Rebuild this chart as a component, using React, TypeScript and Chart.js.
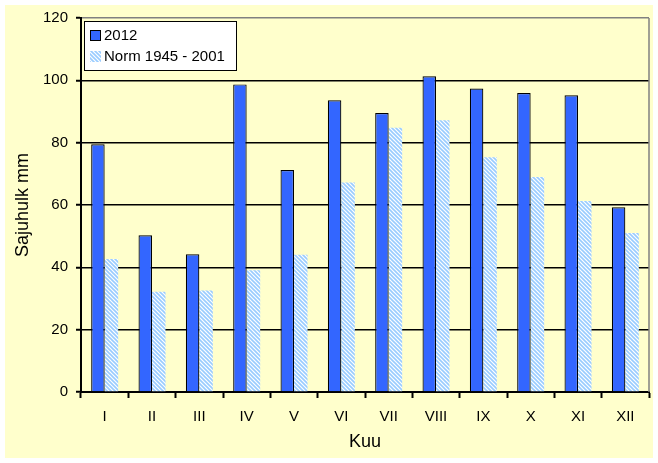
import React, { useEffect, useRef } from "react";
import { Chart, registerables } from "chart.js";

Chart.register(...registerables);

const months = ["I", "II", "III", "IV", "V", "VI", "VII", "VIII", "IX", "X", "XI", "XII"];
const values2012 = [79.5, 50.3, 44.2, 98.7, 71.2, 93.6, 89.5, 101.3, 97.4, 95.9, 95.2, 59.3];
const valuesNorm = [42.7, 32.2, 32.6, 39.1, 44.0, 67.2, 84.8, 87.2, 75.3, 69.0, 61.3, 51.0];
const seriesLabels = ["2012", "Norm 1945 - 2001"];

const FONT = "'Liberation Sans', Arial, sans-serif";

function makeHatch(): CanvasPattern | string {
  const c = document.createElement("canvas");
  c.width = 4;
  c.height = 4;
  const g = c.getContext("2d");
  if (!g) return "#99ccff";
  g.fillStyle = "#ffffff";
  g.fillRect(0, 0, 4, 4);
  g.strokeStyle = "#99ccff";
  g.lineWidth = 1.6;
  g.beginPath();
  g.moveTo(-1, -1);
  g.lineTo(5, 5);
  g.moveTo(-1, 3);
  g.lineTo(1, 5);
  g.moveTo(3, -1);
  g.lineTo(5, 1);
  g.stroke();
  const p = g.createPattern(c, "repeat");
  return p || "#99ccff";
}

export default function App() {
  const ref = useRef<HTMLCanvasElement | null>(null);

  useEffect(() => {
    document.body.style.margin = "0";
    const canvas = ref.current;
    if (!canvas) return;
    const hatch = makeHatch();

    const bgPlugin = {
      id: "bg",
      beforeDraw(chart: any) {
        const ctx = chart.ctx;
        ctx.save();
        ctx.fillStyle = "#ffffff";
        ctx.fillRect(0, 0, chart.width, chart.height);
        ctx.fillStyle = "#ffffcc";
        ctx.fillRect(5, 5, 648, 453);
        ctx.restore();
      },
      afterDraw(chart: any) {
        const ctx = chart.ctx;
        const a = chart.chartArea;
        ctx.save();
        ctx.strokeStyle = "#808080";
        ctx.lineWidth = 1.5;
        ctx.beginPath();
        ctx.moveTo(a.right, a.top);
        ctx.lineTo(a.right, a.bottom);
        ctx.stroke();
        // legend
        const lx = 84, ly = 21, lw = 152, lh = 49;
        ctx.fillStyle = "#ffffff";
        ctx.fillRect(lx, ly, lw, lh);
        ctx.strokeStyle = "#000000";
        ctx.lineWidth = 1;
        ctx.strokeRect(lx + 0.5, ly + 0.5, lw, lh);
        ctx.font = "15px " + FONT;
        ctx.textBaseline = "middle";
        ctx.textAlign = "left";
        ctx.fillStyle = "#3366ff";
        ctx.fillRect(91, 31, 9, 9);
        ctx.strokeStyle = "#000";
        ctx.strokeRect(90.5, 30.5, 10, 10);
        ctx.fillStyle = "#000";
        ctx.fillText(seriesLabels[0], 104, 35.5);
        ctx.fillStyle = hatch as any;
        ctx.fillRect(90, 51, 11, 11);
        ctx.fillStyle = "#000";
        ctx.fillText(seriesLabels[1], 104, 57);
        ctx.restore();
      },
    };

    const chart = new Chart(canvas, {
      type: "bar",
      data: {
        labels: months,
        datasets: [
          {
            label: seriesLabels[0],
            data: values2012,
            backgroundColor: "#3366ff",
            borderColor: "#000000",
            borderWidth: { top: 1.2, left: 1.2, right: 1.2, bottom: 0 },
            borderSkipped: "bottom",
            categoryPercentage: 0.57,
            barPercentage: 1.0,
          },
          {
            label: seriesLabels[1],
            data: valuesNorm,
            backgroundColor: hatch as any,
            borderWidth: 0,
            categoryPercentage: 0.57,
            barPercentage: 1.0,
          },
        ],
      },
      options: {
        responsive: false,
        animation: false,
        events: [],
        layout: { padding: { left: 12, right: 9, top: 18, bottom: 10 } },
        plugins: {
          legend: { display: false },
          tooltip: { enabled: false },
          title: { display: false },
        },
        scales: {
          x: {
            grid: {
              offset: true,
              drawOnChartArea: false,
              drawTicks: true,
              tickLength: 6,
              tickColor: "#000",
              tickWidth: 2,
            },
            border: { display: true, color: "#000", width: 2 },
            ticks: {
              color: "#000",
              font: { family: FONT, size: 15 },
              padding: 10,
              maxRotation: 0,
            },
            title: {
              display: true,
              text: "Kuu",
              color: "#000",
              font: { family: FONT, size: 18 },
              padding: { top: 4, bottom: 0 },
            },
            afterFit(scale: any) {
              scale.height = 463 - 392 - 10;
            },
          },
          y: {
            min: 0,
            max: 120,
            ticks: {
              stepSize: 20,
              color: "#000",
              font: { family: FONT, size: 15 },
              padding: 8,
            },
            grid: {
              color: (c: any) => (c.tick && c.tick.value === 120 ? "#808080" : "#000000"),
              lineWidth: 1.5,
              drawTicks: true,
              tickLength: 5,
              tickColor: "#000",
              tickWidth: 2,
            },
            border: { display: true, color: "#000", width: 2 },
            title: {
              display: true,
              text: "Sajuhulk mm",
              color: "#000",
              font: { family: FONT, size: 18 },
              padding: { top: 0, bottom: 4 },
            },
            afterFit(scale: any) {
              scale.width = 81 - 12;
            },
          },
        },
      },
      plugins: [bgPlugin],
    });

    return () => chart.destroy();
  }, []);

  return (
    <div style={{ position: "absolute", left: 0, top: 0, width: 658, height: 463 }}>
      <canvas ref={ref} width={658} height={463} style={{ width: 658, height: 463, display: "block" }} />
    </div>
  );
}
